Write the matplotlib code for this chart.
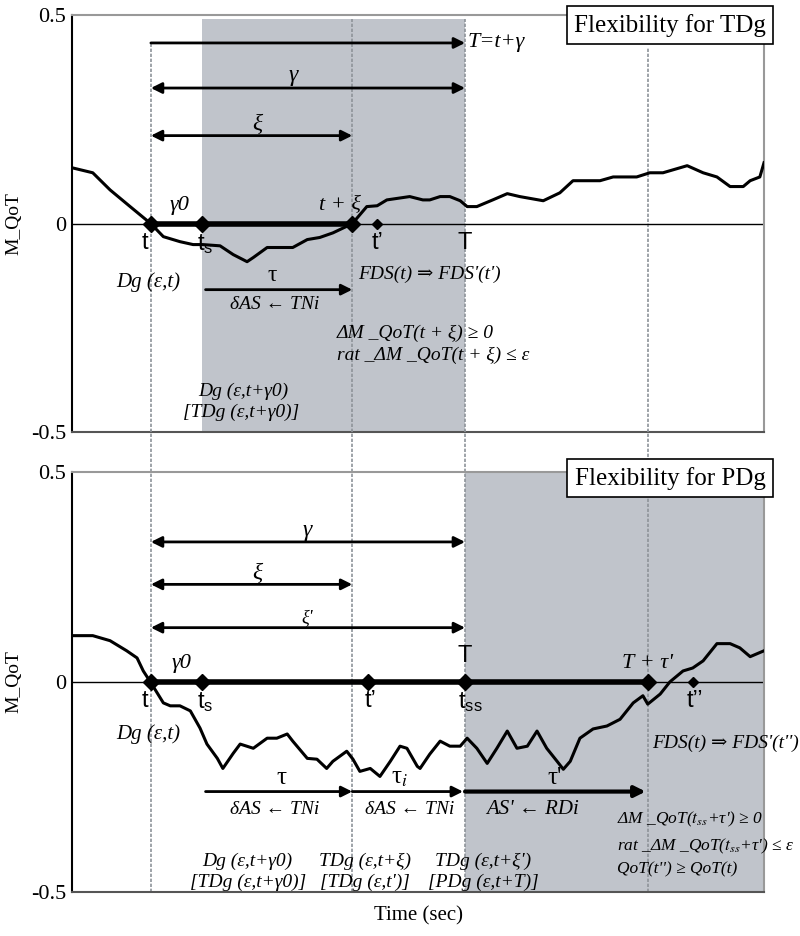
import numpy as np
import matplotlib.pyplot as plt

plt.rcParams['font.family'] = ['Liberation Serif', 'DejaVu Serif']
plt.rcParams['mathtext.fontset'] = 'stix'

# M_QoT curve, TDg case (time in arbitrary units 0..100)
x_tdg = [0, 3.0, 5.5, 8.4, 11.4, 13.2, 15.6, 17.5, 18.9, 21.4, 23.3, 25.3, 26.2, 28.2,
         31.9, 34.0, 35.8, 37.7, 40.5, 42.6, 44.1, 45.5, 48.8, 50.7, 51.7, 53.2, 54.6,
         56.1, 57.1, 58.5, 60.8, 62.9, 64.7, 68.1, 70.5, 72.4, 76.3, 78.2, 81.6, 83.5,
         85.4, 88.9, 91.2, 93.2, 95.1, 97.0, 98.0, 99.4, 100]
y_tdg = [0.134, 0.122, 0.081, 0.041, 0, -0.031, -0.043, -0.050, -0.050, -0.053, -0.074,
         -0.091, -0.081, -0.057, -0.057, -0.038, -0.033, -0.022, 0, 0.041, 0.043, 0.057,
         0.065, 0.057, 0.057, 0.065, 0.065, 0.055, 0.041, 0.041, 0.057, 0.072, 0.065,
         0.055, 0.074, 0.103, 0.103, 0.112, 0.112, 0.122, 0.122, 0.139, 0.122, 0.112,
         0.089, 0.089, 0.103, 0.112, 0.146]

# M_QoT curve, PDg case
x_pdg = [0, 3.0, 5.5, 7.9, 9.4, 10.3, 11.4, 13.2, 14.2, 15.6, 17.1, 18.5, 19.5, 21.0,
         21.8, 23.3, 24.3, 26.2, 28.2, 29.6, 31.1, 31.9, 34.0, 35.4, 36.8, 37.7, 39.7,
         40.6, 41.6, 43.1, 44.5, 46.0, 47.4, 48.4, 49.9, 50.3, 51.7, 53.2, 54.6, 56.1,
         57.1, 58.5, 60.0, 61.4, 62.9, 64.3, 65.8, 67.2, 68.6, 70.1, 71.0, 72.0, 73.4,
         75.3, 77.3, 79.2, 81.1, 82.5, 83.2, 85.0, 86.4, 88.3, 89.7, 91.2, 93.2, 95.1,
         96.5, 98.0, 100]
y_pdg = [0.110, 0.110, 0.098, 0.074, 0.057, 0.026, -0.002, -0.050, -0.057, -0.057, -0.069,
         -0.110, -0.148, -0.182, -0.206, -0.170, -0.148, -0.158, -0.134, -0.134, -0.124,
         -0.141, -0.182, -0.184, -0.206, -0.189, -0.165, -0.184, -0.213, -0.206, -0.225,
         -0.189, -0.153, -0.158, -0.201, -0.206, -0.172, -0.141, -0.153, -0.153, -0.134,
         -0.158, -0.194, -0.158, -0.117, -0.158, -0.153, -0.117, -0.158, -0.189, -0.208,
         -0.189, -0.134, -0.112, -0.105, -0.089, -0.050, -0.033, -0.053, -0.029, 0, 0.026,
         0.033, 0.050, 0.091, 0.091, 0.081, 0.060, 0.074]

# key instants
t0, ts, txi, T, Ttau = 11.4, 18.8, 40.5, 56.8, 83.2
tp_top, tp_bot, tpp = 44.1, 42.8, 89.7
grid_x = [t0, txi, T, Ttau]

shade = '#c0c4cb'
gcol = '#8e9399'
IT = dict(fontstyle='italic')
SANS = dict(family='Liberation Sans', fontsize=17)

fig = plt.figure(figsize=(8, 9.36), dpi=100)
ax1 = fig.add_axes([0.09, 0.538, 0.865, 0.446])
ax2 = fig.add_axes([0.09, 0.047, 0.865, 0.449])

for ax in (ax1, ax2):
    ax.set_xlim(0, 100)
    ax.set_ylim(-0.5, 0.5)
    ax.set_xticks([])
    ax.set_yticks([-0.5, 0, 0.5])
    ax.set_yticklabels(['-0.5', '0', '0.5'], fontsize=16)
    ax.tick_params(axis='y', length=0, pad=4)
    ax.set_ylabel('M_QoT', fontsize=14, labelpad=6)
    ax.spines['left'].set_color('k')
    ax.spines['left'].set_linewidth(1.5)
    ax.spines['bottom'].set_color('#555555')
    ax.spines['bottom'].set_linewidth(1.5)
    ax.spines['top'].set_color('#999999')
    ax.spines['top'].set_linewidth(1.5)
    ax.spines['right'].set_color('#999999')
    ax.spines['right'].set_linewidth(1.5)
    ax.axhline(0, color='k', lw=1.0, zorder=2)


def arrow(ax, x1, x2, y, style, lw=2.0):
    ax.annotate('', xy=(x2, y), xytext=(x1, y),
                arrowprops=dict(arrowstyle=style, color='k', lw=lw,
                                mutation_scale=16, shrinkA=0, shrinkB=0), zorder=5)


# ---------------- top panel: TDg ----------------
ax1.fill_between([ts, T], -0.5, 0.49, color=shade, lw=0, zorder=0)
top_ext = [0.433, 0.49, 0.49, 0.421]
for gx, ye in zip(grid_x, top_ext):
    ax1.plot([gx, gx], [-0.5, ye], color=gcol, lw=1.2, ls=(0, (2, 1)), zorder=1)
ax1.plot(x_tdg, y_tdg, color='k', lw=2.2, zorder=3)
ax1.plot([t0, txi], [0, 0], color='k', lw=4, zorder=4)
ax1.plot([t0, ts, txi], [0, 0, 0], 'D', color='k', ms=8, zorder=6)
ax1.plot([tp_top], [0], 'D', color='k', ms=5, zorder=6)

arrow(ax1, t0, T, 0.433, '-|>')
arrow(ax1, t0, T, 0.325, '<|-|>')
arrow(ax1, t0, txi, 0.211, '<|-|>')
arrow(ax1, ts + 0.5, txi, -0.158, '-|>')

ax1.text(T + 0.3, 0.433, 'T=t+γ', fontsize=16, ha='left', va='center', **IT)
ax1.text(31.9, 0.356, 'γ', fontsize=17, ha='center', va='center', **IT)
ax1.text(26.7, 0.237, 'ξ', fontsize=17, ha='center', va='center', **IT)
ax1.text(15.6, 0.02, 'γ0', fontsize=16, ha='center', va='bottom', **IT)
ax1.text(38.7, 0.02, 't + ξ', fontsize=16, ha='center', va='bottom', **IT)
ax1.text(10.5, -0.02, 't', ha='center', va='top', **SANS)
ax1.text(19.2, -0.02, r'$\mathregular{t_s}$', ha='center', va='top', **SANS)
ax1.text(tp_top, -0.02, 't\u2019', ha='center', va='top', **SANS)
ax1.text(T, -0.02, 'T', ha='center', va='top', **SANS)
ax1.text(11, -0.139, 'Dg (ε,t)', fontsize=15, ha='center', va='center', **IT)
ax1.text(29.0, -0.15, 'τ', fontsize=17, ha='center', va='bottom')
ax1.text(29.3, -0.194, 'δAS ← TNi', fontsize=14, ha='center', va='center', **IT)
ax1.text(51.7, -0.122, "FDS(t) ⇒ FDS'(t')", fontsize=14, ha='center', va='center', **IT)
ax1.text(38.3, -0.262, 'ΔM _QoT(t + ξ) ≥ 0', fontsize=14, ha='left', va='center', **IT)
ax1.text(38.3, -0.315, 'rat _ΔM _QoT(t + ξ) ≤ ε', fontsize=14, ha='left', va='center',
         **IT)
ax1.text(24.7, -0.402, 'Dg (ε,t+γ0)', fontsize=14, ha='center', va='center', **IT)
ax1.text(24.4, -0.452, '[TDg (ε,t+γ0)]', fontsize=14, ha='center', va='center', **IT)

# ---------------- bottom panel: PDg ----------------
ax2.fill_between([T, 100], -0.5, 0.5, color=shade, lw=0, zorder=0)
for gx in grid_x:
    ax2.plot([gx, gx], [-0.5, 0.5], color=gcol, lw=1.2, ls=(0, (2, 1)), zorder=1)
    ax2.plot([gx, gx], [0.5, 0.6], color=gcol, lw=1.2, ls=(0, (2, 1)), zorder=1,
             clip_on=False)
ax2.plot(x_pdg, y_pdg, color='k', lw=2.2, zorder=3)
ax2.plot([t0, Ttau], [0, 0], color='k', lw=4, zorder=4)
ax2.plot([t0, ts, tp_bot, T, Ttau], [0, 0, 0, 0, 0], 'D', color='k', ms=8, zorder=6)
ax2.plot([tpp], [0], 'D', color='k', ms=5, zorder=6)

arrow(ax2, t0, T, 0.333, '<|-|>')
arrow(ax2, t0, txi, 0.232, '<|-|>')
arrow(ax2, t0, T, 0.129, '<|-|>')
arrow(ax2, ts + 0.5, txi, -0.261, '-|>')
arrow(ax2, txi, T - 0.3, -0.261, '-|>')
arrow(ax2, T, Ttau - 0.3, -0.261, '-|>', lw=3.0)

ax2.text(34.0, 0.361, 'γ', fontsize=17, ha='center', va='center', **IT)
ax2.text(26.7, 0.258, 'ξ', fontsize=17, ha='center', va='center', **IT)
ax2.text(34.0, 0.153, "ξ'", fontsize=13, ha='center', va='center', **IT)
ax2.text(15.9, 0.02, 'γ0', fontsize=16, ha='center', va='bottom', **IT)
ax2.text(T, 0.035, 'T', ha='center', va='bottom', **SANS)
ax2.text(Ttau, 0.02, "T + τ'", fontsize=16, ha='center', va='bottom', **IT)
ax2.text(10.5, -0.02, 't', ha='center', va='top', **SANS)
ax2.text(19.2, -0.02, r'$\mathregular{t_s}$', ha='center', va='top', **SANS)
ax2.text(43.1, -0.02, 't\u2019', ha='center', va='top', **SANS)
ax2.text(57.5, -0.02, r'$\mathregular{t_{ss}}$', ha='center', va='top', **SANS)
ax2.text(90.0, -0.02, 't\u2019\u2019', ha='center', va='top', **SANS)
ax2.text(11, -0.124, 'Dg (ε,t)', fontsize=15, ha='center', va='center', **IT)
ax2.text(30.3, -0.255, 'τ', fontsize=18, ha='center', va='bottom')
ax2.text(47.4, -0.255, r'$\mathregular{τ}_i$', fontsize=18, ha='center', va='bottom')
ax2.text(69.8, -0.255, "τ'", fontsize=18, ha='center', va='bottom')
ax2.text(29.3, -0.304, 'δAS ← TNi', fontsize=14, ha='center', va='center', **IT)
ax2.text(48.8, -0.304, 'δAS ← TNi', fontsize=14, ha='center', va='center', **IT)
ax2.text(66.6, -0.304, "AS' ← RDi", fontsize=15, ha='center', va='center', **IT)
ax2.text(94.4, -0.146, "FDS(t) ⇒ FDS'(t'')", fontsize=14, ha='center', va='center', **IT)
ax2.text(78.8, -0.328, "ΔM _QoT($t_{ss}$+τ') ≥ 0", fontsize=12.5, ha='left',
         va='center', **IT)
ax2.text(78.8, -0.392, "rat _ΔM _QoT($t_{ss}$+τ') ≤ ε", fontsize=12.5, ha='left',
         va='center', **IT)
ax2.text(78.8, -0.447, "QoT(t'') ≥ QoT(t)", fontsize=12.5, ha='left', va='center', **IT)
ax2.text(25.4, -0.428, 'Dg (ε,t+γ0)', fontsize=14, ha='center', va='center', **IT)
ax2.text(25.4, -0.476, '[TDg (ε,t+γ0)]', fontsize=14, ha='center', va='center', **IT)
ax2.text(42.3, -0.428, 'TDg (ε,t+ξ)', fontsize=14, ha='center', va='center', **IT)
ax2.text(42.3, -0.476, "[TDg (ε,t')]", fontsize=14, ha='center', va='center', **IT)
ax2.text(59.4, -0.428, "TDg (ε,t+ξ')", fontsize=14, ha='center', va='center', **IT)
ax2.text(59.4, -0.476, '[PDg (ε,t+T)]', fontsize=14, ha='center', va='center', **IT)
ax2.set_xlabel('Time (sec)', fontsize=15, labelpad=10)

# title boxes
box = dict(boxstyle='square,pad=0.3', fc='white', ec='k', lw=1.2)
fig.text(0.8375, 0.973, 'Flexibility for TDg', fontsize=18, ha='center', va='center',
         bbox=box, zorder=10)
fig.text(0.8375, 0.489, 'Flexibility for PDg', fontsize=18, ha='center', va='center',
         bbox=box, zorder=10)

plt.savefig('out.png', dpi=100)
